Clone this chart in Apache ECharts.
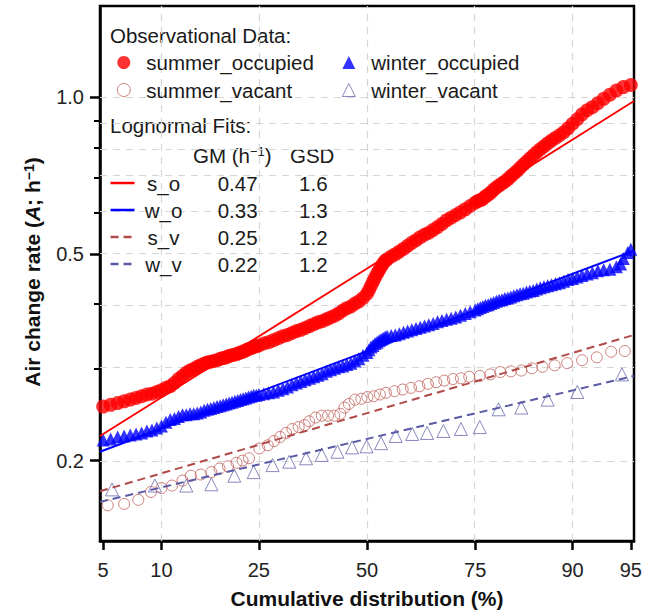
<!DOCTYPE html>
<html><head><meta charset="utf-8">
<script src="https://cdn.jsdelivr.net/npm/echarts@6.0.0/dist/echarts.min.js"></script>
<style>html,body{margin:0;padding:0;background:#fff}#c{width:654px;height:614px}</style>
</head><body><div id="c"></div><script>
// ---- data: [cumulative distribution (%), air change rate (h^-1)] ----
const summerOccupied = [
[5.0,0.254],[5.5,0.256],[6.0,0.258],[6.5,0.260],[7.0,0.262],[7.5,0.264],[8.0,0.266],[8.5,0.268],[9.0,0.269],[9.5,0.271],
[10.0,0.273],[10.5,0.276],[11.0,0.278],[11.5,0.282],[12.0,0.287],[12.5,0.291],[13.0,0.295],[13.5,0.298],[14.0,0.300],[14.5,0.303],
[15.0,0.305],[15.5,0.307],[16.0,0.309],[16.5,0.310],[17.0,0.311],[17.5,0.312],[18.0,0.314],[18.5,0.315],[19.0,0.316],[19.5,0.318],
[20.0,0.319],[20.5,0.320],[21.0,0.321],[21.5,0.323],[22.0,0.324],[22.5,0.326],[23.0,0.328],[23.5,0.329],[24.0,0.331],[24.5,0.332],
[25.0,0.333],[26,0.336],[27,0.338],[28,0.341],[29,0.344],[30,0.347],[31,0.349],[32,0.352],[33,0.355],[34,0.357],
[35,0.360],[36,0.363],[37,0.366],[38,0.369],[39,0.371],[40,0.374],[41,0.377],[42,0.380],[43,0.384],[44,0.389],
[45,0.393],[46,0.396],[47,0.401],[48,0.405],[49,0.411],[50,0.419],[50.5,0.426],[51,0.434],[51.5,0.442],[52,0.450],
[52.5,0.458],[53,0.465],[53.5,0.472],[54,0.479],[54.5,0.485],[55,0.488],[56,0.494],[57,0.499],[58,0.505],[59,0.511],
[60,0.518],[61,0.525],[62,0.531],[63,0.538],[64,0.544],[65,0.549],[66,0.556],[67,0.563],[68,0.571],[69,0.580],
[70,0.587],[71,0.594],[72,0.601],[73,0.609],[74,0.618],[75,0.627],[75.5,0.632],[76,0.634],[76.5,0.638],[77,0.645],
[77.5,0.650],[78,0.656],[78.5,0.664],[79,0.671],[79.5,0.677],[80,0.683],[80.5,0.689],[81,0.696],[81.5,0.705],[82,0.713],
[82.5,0.722],[83,0.732],[83.5,0.742],[84,0.752],[84.5,0.763],[85,0.773],[85.5,0.784],[86,0.795],[86.5,0.805],[87,0.816],
[87.5,0.826],[88,0.836],[88.5,0.846],[89,0.857],[89.5,0.872],[90,0.890],[90.5,0.908],[91,0.928],[91.5,0.945],[92,0.958],
[92.5,0.975],[93,0.994],[93.5,1.012],[94,1.031],[94.5,1.047],[95,1.057]
];
const winterOccupied = [
[5.0,0.219],[5.5,0.220],[6.0,0.222],[6.5,0.223],[7.0,0.224],[7.5,0.225],[8.0,0.226],[8.5,0.228],[9.0,0.229],[9.5,0.231],
[10.0,0.233],[10.5,0.237],[11.0,0.240],[11.5,0.241],[12.0,0.243],[12.5,0.245],[13.0,0.245],[13.5,0.246],[14.0,0.246],[14.5,0.247],
[15.0,0.248],[15.5,0.250],[16.0,0.251],[16.5,0.252],[17.0,0.253],[17.5,0.254],[18.0,0.255],[18.5,0.256],[19.0,0.257],[19.5,0.258],
[20.0,0.259],[20.5,0.260],[21.0,0.261],[21.5,0.262],[22.0,0.263],[22.5,0.264],[23.0,0.265],[23.5,0.266],[24.0,0.267],[24.5,0.267],
[25.0,0.268],[26,0.269],[27,0.270],[28,0.271],[29,0.273],[30,0.275],[31,0.277],[32,0.280],[33,0.282],[34,0.284],
[35,0.286],[36,0.288],[37,0.290],[38,0.292],[39,0.294],[40,0.297],[41,0.299],[42,0.301],[43,0.303],[44,0.304],
[45,0.306],[46,0.308],[47,0.311],[48,0.314],[49,0.319],[50,0.323],[50.5,0.327],[51,0.331],[51.5,0.333],[52,0.336],
[52.5,0.338],[53,0.340],[53.5,0.342],[54,0.344],[54.5,0.346],[55,0.347],[56,0.348],[57,0.349],[58,0.351],[59,0.353],
[60,0.355],[61,0.357],[62,0.359],[63,0.361],[64,0.363],[65,0.365],[66,0.367],[67,0.370],[68,0.372],[69,0.374],
[70,0.376],[71,0.378],[72,0.381],[73,0.384],[74,0.387],[75,0.390],[75.5,0.392],[76,0.394],[76.5,0.396],[77,0.398],
[77.5,0.399],[78,0.401],[78.5,0.403],[79,0.405],[79.5,0.407],[80,0.408],[80.5,0.410],[81,0.411],[81.5,0.413],[82,0.415],
[82.5,0.417],[83,0.419],[83.5,0.420],[84,0.422],[84.5,0.424],[85,0.425],[85.5,0.428],[86,0.430],[86.5,0.432],[87,0.434],
[87.5,0.436],[88,0.438],[88.5,0.440],[89,0.443],[89.5,0.446],[90,0.448],[90.5,0.451],[91,0.454],[91.5,0.457],[92,0.460],
[92.5,0.464],[93,0.466],[93.5,0.467],[94,0.472],[94.3,0.478],[94.5,0.490],[94.8,0.503],[95,0.510]
];
const summerVacant = [
[5.3,0.164],[6.5,0.165],[7.7,0.168],[8.9,0.174],[10.0,0.177],[11.2,0.179],[12.5,0.183],[13.6,0.187],[15.0,0.188],[16.6,0.190],
[17.9,0.193],[19.3,0.195],[20.8,0.198],[21.9,0.200],[23.1,0.202],[25.1,0.211],[26.8,0.214],[28.1,0.218],[29.4,0.222],[30.7,0.226],
[32.1,0.230],[33.5,0.232],[34.9,0.234],[35.9,0.238],[37.4,0.242],[38.9,0.244],[40.4,0.244],[41.9,0.244],[43.4,0.246],[44.4,0.253],
[45.5,0.257],[47.0,0.262],[48.6,0.263],[50.1,0.265],[51.7,0.266],[53.2,0.268],[54.7,0.270],[56.8,0.272],[58.8,0.274],[60.8,0.276],
[62.8,0.278],[64.8,0.281],[66.7,0.283],[68.5,0.285],[70.4,0.287],[72.1,0.288],[73.8,0.290],[75.9,0.291],[77.9,0.293],[79.7,0.296],
[81.5,0.297],[83.2,0.298],[84.8,0.301],[86.3,0.303],[87.9,0.305],[89.4,0.308],[91.0,0.312],[92.4,0.316],[93.6,0.324],[94.6,0.325]
];
const winterVacant = [
[5.6,0.176],[9.3,0.179],[13.0,0.179],[16.6,0.180],[20.4,0.187],[24.0,0.190],[27.8,0.196],[31.4,0.199],[35.2,0.202],[38.9,0.205],
[42.7,0.208],[46.3,0.212],[49.9,0.213],[53.5,0.216],[57.1,0.223],[61.1,0.225],[64.6,0.226],[68.3,0.228],[72.1,0.230],[75.9,0.232],
[79.4,0.251],[83.2,0.253],[87.0,0.262],[90.5,0.271],[94.4,0.293]
];

// lognormal fit lines (end points at the plot edges)
const fitPct = [4.8, 95.2];
const soFit = [0.223, 0.984];
const woFit = [0.208, 0.507];
const svFit = [0.1745, 0.349];
const wvFit = [0.1665, 0.291];
const fitNames = ['s_o','w_o','s_v','w_v'];
const fitGM = ['0.47','0.33','0.25','0.22'];
const fitGSD = ['1.6','1.3','1.2','1.2'];

// ticks
const xTickPct = [5,10,25,50,75,90,95];
const xTickLab = ['5','10','25','50','75','90','95'];
const xGridPct = [10,25,50,75,90];
const yMajorVal = [0.2,0.5,1.0];
const yMajorLab = ['0.2','0.5','1.0'];
const yMinorVal = [0.3,0.4,0.6,0.7,0.8,0.9];
const yGridVal = [0.2,0.3,0.4,0.5,0.6,0.7,0.8,0.9,1.0];

// ---- scales: probit (normal quantile) for x, log10 for y ----
function probit(p){
  const a=[-3.969683028665376e+01,2.209460984245205e+02,-2.759285104469687e+02,1.383577518672690e+02,-3.066479806614716e+01,2.506628277459239e+00];
  const b=[-5.447609879822406e+01,1.615858368580409e+02,-1.556989798598866e+02,6.680131188771972e+01,-1.328068155288572e+01];
  const c=[-7.784894002430293e-03,-3.223964580411365e-01,-2.400758277161838e+00,-2.549732539343734e+00,4.374664141464968e+00,2.938163982698783e+00];
  const d=[7.784695709041462e-03,3.224671290700398e-01,2.445134137142996e+00,3.754408661907416e+00];
  const pl=0.02425, ph=1-pl;
  let q,r;
  if(p<pl){q=Math.sqrt(-2*Math.log(p));return (((((c[0]*q+c[1])*q+c[2])*q+c[3])*q+c[4])*q+c[5])/((((d[0]*q+d[1])*q+d[2])*q+d[3])*q+1);}
  if(p<=ph){q=p-0.5;r=q*q;return (((((a[0]*r+a[1])*r+a[2])*r+a[3])*r+a[4])*r+a[5])*q/(((((b[0]*r+b[1])*r+b[2])*r+b[3])*r+b[4])*r+1);}
  q=Math.sqrt(-2*Math.log(1-p));return -(((((c[0]*q+c[1])*q+c[2])*q+c[3])*q+c[4])*q+c[5])/((((d[0]*q+d[1])*q+d[2])*q+d[3])*q+1);
}
const X = p => probit(p/100);
const Y = v => Math.log10(v);
const toXY = pairs => pairs.map(([p,v]) => [X(p), Y(v)]);
const fitXY = vals => fitPct.map((p,i) => [X(p), Y(vals[i])]);
const near = (arr, v) => arr.findIndex(a => Math.abs(a - v) < 1e-6);

const FONT = 'Liberation Sans, Arial, Helvetica, sans-serif';
const TXT = '#1a1a1a';
const C = {so:'#ff0000', wo:'#0000ff', sv:'#c0605a', svl:'#b04a48', wv:'#6a6aae', wvl:'#5a5aa6'};
const LFS = 20.5;

const chart = echarts.init(document.getElementById('c'), null, {renderer:'svg'});
const option = {
  animation: false,
  backgroundColor: '#fff',
  textStyle: {fontFamily: FONT},
  grid: {left:100, right:20, top:6, bottom:73, show:true, borderColor:'#000', borderWidth:2.5, backgroundColor:'transparent'},
  xAxis: {
    type:'value', min: X(4.8), max: X(95.2),
    name: 'Cumulative distribution (%)', nameLocation:'middle', nameGap: 47,
    nameTextStyle: {fontSize:21, fontWeight:'bold', color:'#111', fontFamily: FONT},
    axisLine: {show:true, onZero:false, lineStyle:{color:'#000', width:2.5}},
    axisTick: {show:true, customValues: xTickPct.map(X), length:9, lineStyle:{color:'#000', width:2.5}},
    axisLabel: {show:true, customValues: xTickPct.map(X), margin:19, fontSize:20, color:'#222', fontFamily: FONT,
      formatter: v => { const i = near(xTickPct.map(X), v); return i >= 0 ? xTickLab[i] : ''; }},
    splitLine: {show:false}
  },
  yAxis: [{
    type:'value', min: Y(0.14), max: Y(1.5),
    axisLine: {show:true, onZero:false, lineStyle:{color:'#000', width:2.5}},
    axisTick: {show:true, customValues: yMajorVal.map(Y), length:10, lineStyle:{color:'#000', width:2.5}},
    axisLabel: {show:true, customValues: yMajorVal.map(Y), margin:16, fontSize:20, color:'#222', fontFamily: FONT,
      formatter: v => { const i = near(yMajorVal.map(Y), v); return i >= 0 ? yMajorLab[i] : ''; }},
    splitLine: {show:false}
  },{
    type:'value', min: Y(0.14), max: Y(1.5), position:'right', offset:-534,
    axisLine: {show:false, onZero:false},
    axisTick: {show:true, inside:true, customValues: yMinorVal.map(Y), length:6, lineStyle:{color:'#000', width:2}},
    axisLabel: {show:false},
    splitLine: {show:false}
  }],
  legend: [{
    left: 116.8, top: 52, orient:'vertical', padding:0, itemGap:6.5, itemWidth:13, itemHeight:13, selectedMode:false,
    textStyle: {fontSize:LFS, color:TXT, lineHeight:20, fontFamily: FONT, padding:[0,0,0,11]},
    data: [{name:'summer_occupied'}, {name:'summer_vacant', itemStyle:{color:'rgba(0,0,0,0)', borderColor:C.sv, borderWidth:1}}]
  },{
    left: 341.8, top: 52, orient:'vertical', padding:0, itemGap:6.5, itemWidth:13, itemHeight:13, selectedMode:false,
    textStyle: {fontSize:LFS, color:TXT, lineHeight:20, fontFamily: FONT, padding:[0,0,0,11]},
    data: [{name:'winter_occupied'}, {name:'winter_vacant', itemStyle:{color:'rgba(0,0,0,0)', borderColor:C.wv, borderWidth:1}}]
  },{
    left: 109.3, top: 172.5, orient:'vertical', padding:0, itemGap:6, itemWidth:24, itemHeight:14, selectedMode:false,
    itemStyle: {opacity:0},
    lineStyle: {width:2.5},
    textStyle: {fontSize:LFS, color:TXT, lineHeight:20, fontFamily: FONT,
      rich: {n:{width:48, align:'center', fontSize:LFS, fontFamily: FONT, color:TXT},
             g:{width:70, align:'right', fontSize:LFS, fontFamily: FONT, color:TXT},
             d:{width:70, align:'right', fontSize:LFS, fontFamily: FONT, color:TXT}}},
    formatter: name => { const i = fitNames.indexOf(name); return '{n|' + name + '}{g|' + fitGM[i] + '}{d|' + fitGSD[i] + '}'; },
    data: fitNames
  }],
  graphic: [
    {type:'text', x:110, y:35, style:{text:'Observational Data:', fontSize:LFS, fontFamily: FONT, fill:TXT, align:'left', verticalAlign:'middle'}},
    {type:'text', x:110, y:125, style:{text:'Lognormal Fits:', fontSize:LFS, fontFamily: FONT, fill:TXT, align:'left', verticalAlign:'middle'}},
    {type:'text', x:193, y:155, style:{text:'{t|GM (h}{s|\u22121}{t|)}', align:'left', verticalAlign:'middle', fill:TXT,
      rich:{t:{fontSize:LFS, fontFamily: FONT, color:TXT}, s:{fontSize:13, fontFamily: FONT, verticalAlign:'top', color:TXT}}}},
    {type:'text', x:290, y:155, style:{text:'GSD', fontSize:LFS, fontFamily: FONT, fill:TXT, align:'left', verticalAlign:'middle'}},
    {type:'text', x:32, y:272, rotation: Math.PI/2, style:{
      text:'{b|Air change rate (}{i|A}{b|; h}{s|\u22121}{b|)}', align:'center', verticalAlign:'middle', fill:'#111',
      rich:{b:{fontSize:21, fontWeight:'bold', fontFamily: FONT, color:'#111'},
            i:{fontSize:21, fontWeight:'bold', fontStyle:'italic', fontFamily: FONT, color:'#111'},
            s:{fontSize:14, fontWeight:'bold', fontFamily: FONT, verticalAlign:'top', color:'#111'}}}}
  ],
  series: [
    {name:'grid', type:'line', data:[], silent:true, z:1,
      markLine:{silent:true, symbol:'none', z:1, label:{show:false}, animation:false,
        lineStyle:{color:'#d6d6d6', type:[7,6], width:1.2},
        data: xGridPct.map(p => ({xAxis: X(p)})).concat(yGridVal.map(v => ({yAxis: Y(v)})))}},
    {name:'summer_occupied', type:'scatter', symbol:'circle', symbolSize:14, z:3,
      itemStyle:{color:C.so}, data: toXY(summerOccupied)},
    {name:'winter_occupied', type:'scatter', symbol:'triangle', symbolSize:13, z:3,
      itemStyle:{color:C.wo}, data: toXY(winterOccupied)},
    {name:'summer_vacant', type:'scatter', symbol:'circle', symbolSize:11, z:3,
      itemStyle:{color:'rgba(0,0,0,0)', borderColor:C.sv, borderWidth:1}, data: toXY(summerVacant)},
    {name:'winter_vacant', type:'scatter', symbol:'triangle', symbolSize:13, z:3,
      itemStyle:{color:'rgba(0,0,0,0)', borderColor:C.wv, borderWidth:1}, data: toXY(winterVacant)},
    {name:'s_o', type:'line', symbol:'none', z:4, lineStyle:{color:C.so, width:1.8}, itemStyle:{color:C.so}, data: fitXY(soFit)},
    {name:'w_o', type:'line', symbol:'none', z:4, lineStyle:{color:C.wo, width:2}, itemStyle:{color:C.wo}, data: fitXY(woFit)},
    {name:'s_v', type:'line', symbol:'none', z:4, lineStyle:{color:C.svl, width:2, type:[8,5]}, itemStyle:{color:C.svl}, data: fitXY(svFit)},
    {name:'w_v', type:'line', symbol:'none', z:4, lineStyle:{color:C.wvl, width:2, type:[8,5]}, itemStyle:{color:C.wvl}, data: fitXY(wvFit)}
  ]
};
chart.setOption(option);
</script></body></html>
